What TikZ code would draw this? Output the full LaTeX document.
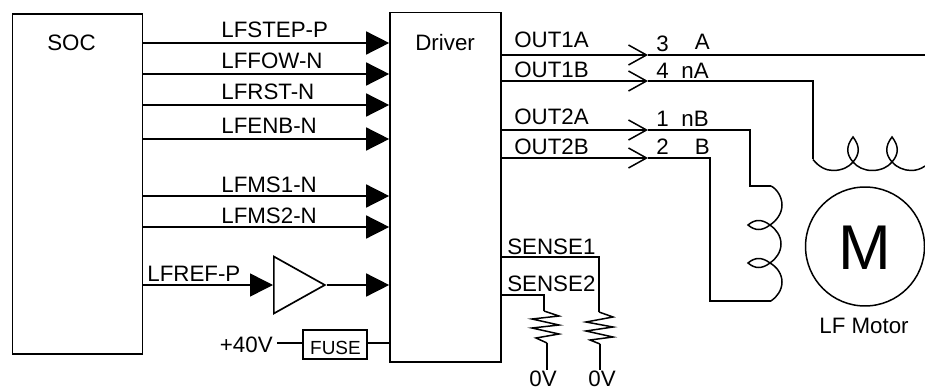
\documentclass[tikz,border=0pt]{standalone}
\usepackage{fontspec}
\setmainfont{Liberation Sans}
\usetikzlibrary{arrows.meta, shapes.geometric}
\tikzstyle{block} = [rectangle, draw=black, line width=0.95pt, inner sep=0pt]
\tikzstyle{buffer} = [isosceles triangle, isosceles triangle stretches, draw=black, line width=0.95pt, inner sep=0pt, minimum width=1.14cm, minimum height=1.02cm]
\tikzstyle{txt} = [inner sep=0pt, anchor=base west]
\tikzstyle{wire} = [line width=0.85pt]
\tikzstyle{arrow} = [wire, -{Triangle[length=0.46cm, width=0.46cm]}]
\tikzstyle{pinarrow} = [wire, -{Straight Barb[length=0.36cm, width=0.4cm]}]
\tikzset{
  font={\fontsize{12.7pt}{14}\selectfont}}

\begin{document}
\begin{tikzpicture}[x=0.02cm, y=-0.02cm]
    \useasboundingbox (0,0) rectangle (925,388);

    \node (soc) [block, minimum width=2.6cm, minimum height=6.8cm] at (77.5,184) {};
    \node (driver) [block, minimum width=2.22cm, minimum height=6.99cm] at (445.5,187.25) {};
    \node (buf) [buffer, anchor=lower side] at (273,285) {};
    \node (fuse) [block, minimum width=1.28cm, minimum height=0.58cm] at (335,344.5) {};
    \node (motor) [circle, draw=black, wire, minimum size=2.38cm, inner sep=0pt] at (865,246.5) {};

    \node (soclabel) [txt] at (47,51) {SOC};
    \node (driverlabel) [txt] at (415,51) {Driver};
    \node (fuselabel) [txt, anchor=base, font={\fontsize{10.8pt}{12}\selectfont}] at (335.5,354) {FUSE};
    \node (mlabel) [txt, anchor=center, font={\fontsize{36pt}{38}\selectfont}] at (865,247.5) {M};
    \node (motorlabel) [txt, anchor=base] at (864,333) {LF Motor};
    \node (vcc) [txt, anchor=base east] at (273,352) {+40V};

    \coordinate (step) at (0,43);
    \coordinate (fow) at (0,74);
    \coordinate (rst) at (0,105);
    \coordinate (enb) at (0,139);
    \coordinate (msone) at (0,196);
    \coordinate (mstwo) at (0,227);
    \coordinate (ref) at (0,285);
    \coordinate (supply) at (0,343);

    \coordinate (onea) at (648,55);
    \coordinate (oneb) at (648,81);
    \coordinate (twoa) at (648,130);
    \coordinate (twob) at (648,158);

    \node (lfstep) [txt] at (221,38) {LFSTEP-P};
    \node (lffow) [txt] at (221,69) {LFFOW-N};
    \node (lfrst) [txt] at (221,100) {LFRST-N};
    \node (lfenb) [txt] at (221,134) {LFENB-N};
    \node (lfmsone) [txt] at (221,193) {LFMS1-N};
    \node (lfmstwo) [txt] at (221,223) {LFMS2-N};
    \node (lfref) [txt] at (147,281) {LFREF-P};

    \draw [arrow] (soc.east |- step) -- (driver.west |- step);
    \draw [arrow] (soc.east |- fow) -- (driver.west |- fow);
    \draw [arrow] (soc.east |- rst) -- (driver.west |- rst);
    \draw [arrow] (soc.east |- enb) -- (driver.west |- enb);
    \draw [arrow] (soc.east |- msone) -- (driver.west |- msone);
    \draw [arrow] (soc.east |- mstwo) -- (driver.west |- mstwo);
    \draw [arrow] (soc.east |- ref) -- (buf.lower side);
    \draw [arrow] (buf.apex) -- (driver.west |- ref);
    \draw [wire] ([xshift=0.08cm]vcc.east |- supply) -- (fuse.west |- supply);
    \draw [wire] (fuse.east |- supply) -- (driver.west |- supply);

    \node (outonea) [txt] at (514,48) {OUT1A};
    \node (outoneb) [txt] at (514,78) {OUT1B};
    \node (outtwoa) [txt] at (514,125) {OUT2A};
    \node (outtwob) [txt] at (514,154) {OUT2B};

    \node (pinthree) [txt] at (656,52) {3};
    \node (pinfour) [txt] at (656,79) {4};
    \node (pinone) [txt] at (656,127) {1};
    \node (pintwo) [txt] at (656,154) {2};
    \node (phasea) [txt, anchor=base east] at (710,50) {A};
    \node (phasena) [txt, anchor=base east] at (709,79) {nA};
    \node (phasenb) [txt, anchor=base east] at (709,127) {nB};
    \node (phaseb) [txt, anchor=base east] at (710,154) {B};

    \draw [pinarrow] (driver.east |- onea) -- (onea);
    \draw [pinarrow] (driver.east |- oneb) -- (oneb);
    \draw [pinarrow] (driver.east |- twoa) -- (twoa);
    \draw [pinarrow] (driver.east |- twob) -- (twob);

    \coordinate (edge) at (925,55);
    \coordinate (coilh) at (813,159.5);
    \coordinate (coilv) at (771,186);
    \coordinate (coilvend) at (771,301);

    \draw [wire] (onea) -- (edge);
    \draw [wire] (oneb) -| (coilh);
    \draw [wire] (twoa) -| (750,186) -- (coilv);
    \draw [wire] (twob) -| (710,301) -- (coilvend);

    % motor windings
    \draw [wire] (coilh) .. controls (819,167) and (826,170.5) .. (833,170.5)
        .. controls (842,170.5) and (849,167) .. (853,162)
        .. controls (860,154) and (860,146) .. (853,137)
        .. controls (846,146) and (846,154) .. (853,162)
        .. controls (857,167) and (864,170.5) .. (872,170.5)
        .. controls (881,170.5) and (888,167) .. (892,162)
        .. controls (899,154) and (899,146) .. (892,137)
        .. controls (885,146) and (885,154) .. (892,162)
        .. controls (896,167) and (904,170.5) .. (911,170.5)
        .. controls (916,170.5) and (921,169) .. (925,166);
    \draw [wire] (coilv) .. controls (777,189) and (782,197) .. (782,205)
        .. controls (782,214) and (776,221) .. (770,225)
        .. controls (762,231) and (755,231) .. (748,225)
        .. controls (755,219) and (762,219) .. (770,225)
        .. controls (776,229) and (781,236) .. (781,244)
        .. controls (781,252) and (776,259) .. (770,263)
        .. controls (762,269) and (755,269) .. (748,263)
        .. controls (755,257) and (762,257) .. (770,263)
        .. controls (777,267) and (782,274) .. (782,282)
        .. controls (782,290) and (777,297) .. (coilvend);

    \node (senseone) [txt] at (507,254) {SENSE1};
    \node (sensetwo) [txt] at (507,291) {SENSE2};
    \node (gndtwo) [txt, anchor=base] at (543,386) {0V};
    \node (gndone) [txt, anchor=base] at (602,386) {0V};

    \coordinate (rtwotop) at (544,311);
    \coordinate (ronetop) at (599,312);
    \coordinate (rtwoend) at (547,343);
    \coordinate (roneend) at (600,344);

    \draw [wire] (driver.east |- 0,257) -| (ronetop);
    \draw [wire] (driver.east |- 0,295) -| (rtwotop);
    \draw [wire] (rtwotop) -- (559,316) -- (532,319) -- (559,325) -- (532,328) -- (559,334) -- (536,338) -- (rtwoend);
    \draw [wire] (ronetop) -- (613,317) -- (586,322) -- (613,327) -- (586,331) -- (613,337) -- (590,340) -- (roneend);
    \draw [wire] (rtwoend) -- (gndtwo.north -| rtwoend);
    \draw [wire] (roneend) -- (gndone.north -| roneend);
\end{tikzpicture}
\end{document}
